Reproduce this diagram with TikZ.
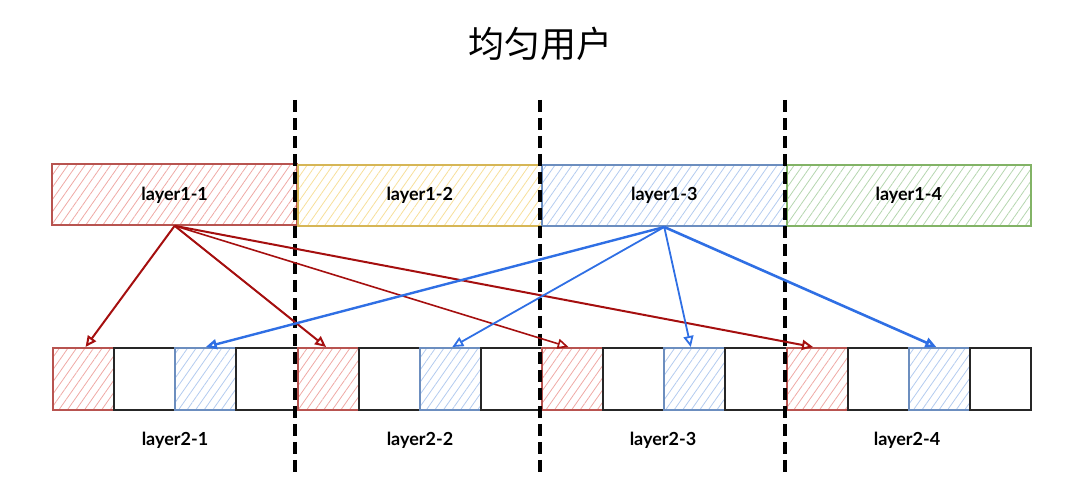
\documentclass[tikz,border=0pt]{standalone}
\usepackage{fontspec}
\setmainfont{Lato}
\newfontfamily\cjk{Noto Sans CJK SC}
\usetikzlibrary{patterns.meta,arrows.meta}
\definecolor{rstroke}{HTML}{B85450}
\definecolor{rhatch}{HTML}{EFA9A5}
\definecolor{ystroke}{HTML}{D6B656}
\definecolor{yhatch}{HTML}{F7DF9A}
\definecolor{bstroke}{HTML}{6C8EBF}
\definecolor{bhatch}{HTML}{B3CBEF}
\definecolor{gstroke}{HTML}{82B366}
\definecolor{ghatch}{HTML}{B5D6AF}
\definecolor{rarrow}{HTML}{A50F0F}
\definecolor{barrow}{HTML}{2F6FE4}
\tikzset{
  hatch/.style={pattern={Lines[angle=55,distance=7pt,line width=0.8pt]}, pattern color=#1},
  topbox/.style={draw, line width=2pt, minimum width=244.5pt, minimum height=61pt, inner sep=0pt,
    anchor=north west, font=\bfseries\fontsize{18}{21}\selectfont},
  cellbox/.style={draw, line width=2pt, minimum width=61.125pt, minimum height=62pt, inner sep=0pt, anchor=north west},
  rcell/.style={cellbox, draw=rstroke, hatch=rhatch},
  bcell/.style={cellbox, draw=bstroke, hatch=bhatch},
  wcell/.style={cellbox, draw=black!85},
  divider/.style={line width=3.6pt, dash pattern=on 12pt off 6pt, black},
  rarr/.style={draw=rarrow, line width=2pt, -{Triangle[open, length=11pt, width=10pt]}},
  barr/.style={draw=barrow, line width=2.4pt, -{Triangle[open, length=11pt, width=10pt]}},
  lbl/.style={font=\bfseries\fontsize{18}{21}\selectfont},
}
\begin{document}
\begin{tikzpicture}[x=1pt,y=-1pt]
\useasboundingbox (0,0) rectangle (1080,494);
\node[font=\cjk\fontsize{36}{40}\selectfont] (title) at (540,44) {均匀用户};
% top boxes
\node[topbox, draw=rstroke, hatch=rhatch] (l11) at (52,164) {layer1-1};
\node[topbox, draw=ystroke, hatch=yhatch] (l12) at (296.5,164) {layer1-2};
\node[topbox, draw=bstroke, hatch=bhatch] (l13) at (541,164) {layer1-3};
\node[topbox, draw=gstroke, hatch=ghatch] (l14) at (785.5,164) {layer1-4};
% bottom cells
\foreach \i/\st in {0/rcell,1/wcell,2/bcell,3/wcell,4/rcell,5/wcell,6/bcell,7/wcell,
                    8/rcell,9/wcell,10/bcell,11/wcell,12/rcell,13/wcell,14/bcell,15/wcell}
  \node[\st] (c\i) at ({52+61.125*\i},347) {};
% bottom labels
\node[lbl] (l21) at (175,440) {layer2-1};
\node[lbl] (l22) at (420,440) {layer2-2};
\node[lbl] (l23) at (663,440) {layer2-3};
\node[lbl] (l24) at (907,440) {layer2-4};
% dividers
\foreach \k/\x in {1/295,2/540,3/785}{
  \coordinate (d\k t) at (\x,100);
  \coordinate (d\k b) at (\x,472);
  \draw[divider] (d\k t) -- (d\k b);
}
% red arrows
\draw[rarr] (l11.south) -- ([xshift=2pt]c0.north);
\draw[rarr] (l11.south) -- ([xshift=-2pt]c4.north);
\draw[rarr, line width=1.6pt] (l11.south) -- ([xshift=-4pt]c8.north);
\draw[rarr] (l11.south) -- ([xshift=-4pt]c12.north);
% blue arrows
\draw[barr] (l13.south) -- (c2.north);
\draw[barr, line width=1.8pt] (l13.south) -- ([xshift=2pt]c6.north);
\draw[barr, line width=1.8pt] (l13.south) -- ([xshift=-4pt]c10.north);
\draw[barr, line width=2.6pt] (l13.south) -- ([xshift=-3pt]c14.north);
\end{tikzpicture}
\end{document}
